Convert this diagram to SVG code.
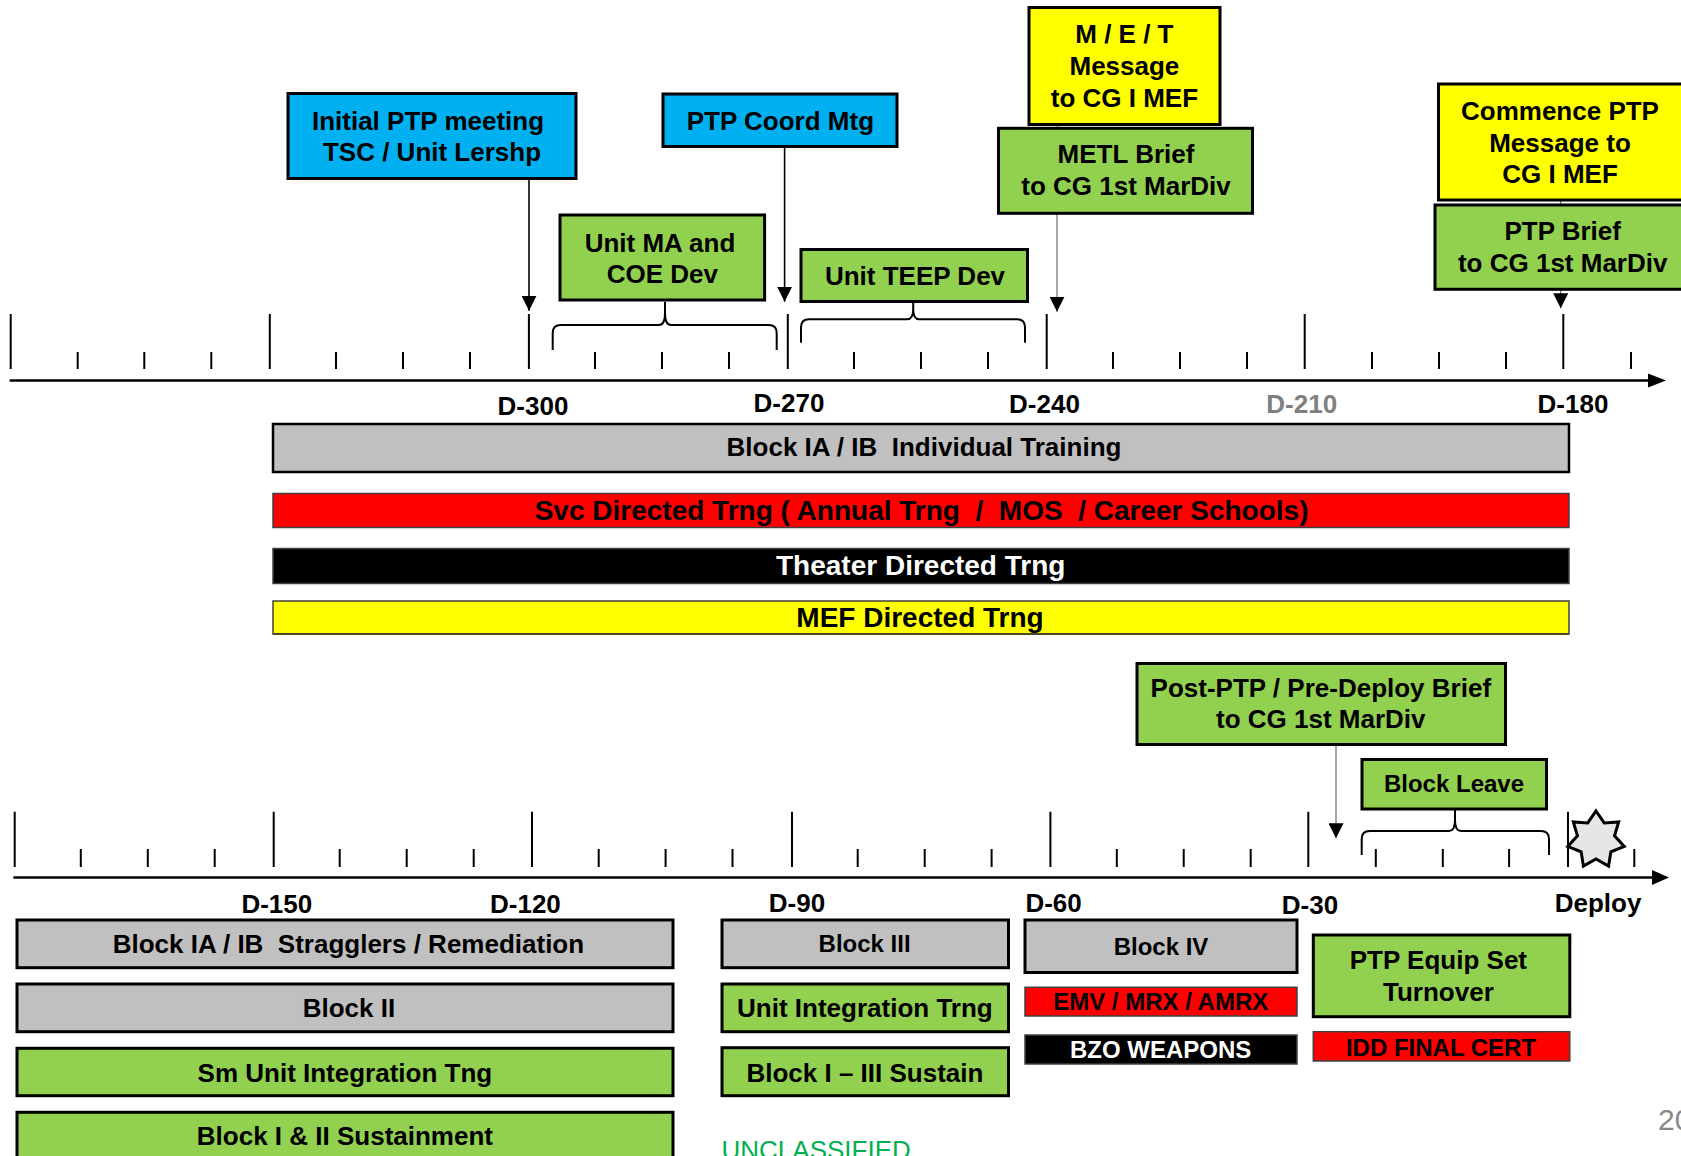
<svg xmlns="http://www.w3.org/2000/svg" width="1681" height="1156" viewBox="0 0 1681 1156">
<style>
text{font-family:"Liberation Sans",Arial,sans-serif;font-weight:bold;font-size:26px;text-anchor:middle;fill:#000}
.s24{font-size:24px}
.s28{font-size:28px}
.w{fill:#fff}
.box{stroke:#000;stroke-width:3}
.thin{stroke:#404040;stroke-width:1.5}
.blue{fill:#00b0f0}
.green{fill:#92d050}
.yellow{fill:#ffff00}
.gray{fill:#c0c0c0}
.red{fill:#ff0000}
.black{fill:#000}
.tick{stroke:#000;stroke-width:2}
.axis{stroke:#000;stroke-width:2.5}
.brace{fill:none;stroke:#000;stroke-width:2}
.conn{stroke:#000;stroke-width:1.6;fill:none}
.connl{stroke:#777;stroke-width:1.3;fill:none}
</style>
<defs>
<marker id="ah" viewBox="0 0 15 15" refX="15" refY="7.5" markerWidth="15" markerHeight="15" orient="auto" markerUnits="userSpaceOnUse">
<path d="M0,0 L15,7.5 L0,15 z" fill="#000"/>
</marker>
</defs>
<rect width="1681" height="1156" fill="#fff"/>

<g id="axis-top">
<line class="axis" x1="9.6" y1="380.5" x2="1650" y2="380.5"/>
<polygon points="1648,373.5 1666,380.5 1648,387.5" fill="#000"/>
<path class="tick" d="M10.7,314V369M269.8,314V369M528.9,314V369M787.8,314V369M1046.7,314V369M1304.7,314V369M1563.3,314V369"/>
<path class="tick" d="M77.7,352V369M144.3,352V369M211.3,352V369M336,352V369M403,352V369M470,352V369M595,352V369M662,352V369M729,352V369M854,352V369M921,352V369M988,352V369M1113,352V369M1180,352V369M1247,352V369M1372,352V369M1439,352V369M1506,352V369M1631,352V369"/>
<text x="533" y="415">D-300</text>
<text x="789" y="412">D-270</text>
<text x="1044.5" y="412.5">D-240</text>
<text x="1301.7" y="413" style="fill:#7f7f7f">D-210</text>
<text x="1573" y="413">D-180</text>
</g>

<g id="axis-bottom">
<line class="axis" x1="13.4" y1="877.5" x2="1654" y2="877.5"/>
<polygon points="1652,870 1669,877.5 1652,885" fill="#000"/>
<path class="tick" d="M14.7,811.7V867M273.7,811.7V867M532,811.7V867M792,811.7V867M1050.4,811.7V867M1308.3,811.7V867M1568,811.7V867"/>
<path class="tick" d="M80.8,849V867M147.8,849V867M214.7,849V867M339.7,849V867M406.7,849V867M473.7,849V867M598.7,849V867M665.6,849V867M732.5,849V867M857.7,849V867M924.7,849V867M991.6,849V867M1116.8,849V867M1183.7,849V867M1250.7,849V867M1375.8,849V867M1442.8,849V867M1509.1,849V867M1634.3,849V867"/>
<text x="276.8" y="913.3">D-150</text>
<text x="525.4" y="913.3">D-120</text>
<text x="797" y="911.7">D-90</text>
<text x="1053.6" y="911.7">D-60</text>
<text x="1310" y="914">D-30</text>
<text x="1598" y="911.7">Deploy</text>
</g>

<g id="connectors">
<line class="conn" x1="529" y1="179" x2="529" y2="310.7" marker-end="url(#ah)"/>
<line class="conn" x1="784.6" y1="146" x2="784.6" y2="301.7" marker-end="url(#ah)"/>
<line class="connl" x1="1057" y1="124" x2="1057" y2="311.7" marker-end="url(#ah)"/>
<line class="connl" x1="1560.7" y1="200" x2="1560.7" y2="308.3" marker-end="url(#ah)"/>
<line class="connl" x1="1336" y1="744" x2="1336" y2="838.3" marker-end="url(#ah)"/>
<path class="brace" d="M552.7,350V333Q552.7,325 560.7,325H659Q665,325 665,313V301.7M665,313Q665,325 671,325H768.7Q776.7,325 776.7,333V350"/>
<path class="brace" d="M801,342.7V327.3Q801,319.3 809,319.3H907.2Q913.2,319.3 913.2,309V301.7M913.2,309Q913.2,319.3 919.2,319.3H1017Q1025,319.3 1025,327.3V342.7"/>
<path class="brace" d="M1361.7,855V839Q1361.7,831 1369.7,831H1449Q1455,831 1455,820V809M1455,820Q1455,831 1461,831H1541Q1549,831 1549,839V855"/>
</g>

<g id="star">
<polygon points="1596,811 1604.24,822.88 1618.67,821.92 1614.52,835.77 1624.27,846.45 1610.85,851.85 1608.58,866.13 1596,859 1583.42,866.13 1581.15,851.85 1567.73,846.45 1577.48,835.77 1573.33,821.92 1587.76,822.88" fill="#e6e6e6" stroke="#000" stroke-width="3" stroke-linejoin="miter"/>
</g>

<g id="initial-ptp">
<rect class="box blue" x="288" y="93.5" width="288" height="85"/>
<text x="428" y="130">Initial PTP meeting</text>
<text x="432" y="161">TSC / Unit Lershp</text>
</g>
<g id="ptp-coord">
<rect class="box blue" x="663" y="94" width="234" height="52.5"/>
<text x="780.4" y="130">PTP Coord Mtg</text>
</g>
<g id="unit-ma">
<rect class="box green" x="560" y="215" width="204.6" height="85"/>
<text x="660" y="251.7">Unit MA and</text>
<text x="662.3" y="283.3">COE Dev</text>
</g>
<g id="unit-teep">
<rect class="box green" x="801" y="249.5" width="226.5" height="52"/>
<text x="915" y="285">Unit TEEP Dev</text>
</g>
<g id="met-message">
<rect class="box yellow" x="1029" y="7.5" width="191" height="117"/>
<text x="1124.4" y="43.3">M / E / T</text>
<text x="1124.4" y="75">Message</text>
<text x="1124.4" y="106.7">to CG I MEF</text>
</g>
<g id="metl-brief">
<rect class="box green" x="998.5" y="128.3" width="254" height="85"/>
<text x="1126" y="163.3">METL Brief</text>
<text x="1126" y="195">to CG 1st MarDiv</text>
</g>
<g id="commence-ptp">
<rect class="box yellow" x="1438.5" y="84" width="260" height="116"/>
<text x="1560" y="120">Commence PTP</text>
<text x="1560" y="151.7">Message to</text>
<text x="1560" y="183.3">CG I MEF</text>
</g>
<g id="ptp-brief">
<rect class="box green" x="1435" y="205" width="260" height="84.3"/>
<text x="1562.7" y="240">PTP Brief</text>
<text x="1562.7" y="271.7">to CG 1st MarDiv</text>
</g>

<g id="block-ia-ib">
<rect class="gray" x="273" y="424" width="1296" height="48" stroke="#000" stroke-width="2.5"/>
<text x="924" y="456" xml:space="preserve">Block IA / IB  Individual Training</text>
</g>
<g id="svc-directed">
<rect class="red thin" x="273" y="493.5" width="1296" height="34"/>
<text class="s28" x="921.6" y="520" xml:space="preserve">Svc Directed Trng ( Annual Trng  /  MOS  / Career Schools)</text>
</g>
<g id="theater-directed">
<rect class="black thin" x="273" y="548.5" width="1296" height="35"/>
<text class="s28 w" x="920.7" y="575">Theater Directed Trng</text>
</g>
<g id="mef-directed">
<rect class="yellow thin" x="273" y="601" width="1296" height="33"/>
<line x1="273" y1="634" x2="1569" y2="634" stroke="#4d4d1a" stroke-width="2"/>
<text class="s28" x="920" y="627.3">MEF Directed Trng</text>
</g>

<g id="post-ptp">
<rect class="box green" x="1137" y="663.5" width="368.5" height="81"/>
<text x="1320.8" y="696.7">Post-PTP / Pre-Deploy Brief</text>
<text x="1320.8" y="728.3">to CG 1st MarDiv</text>
</g>
<g id="block-leave">
<rect class="box green" x="1362" y="759.5" width="184.5" height="49.5"/>
<text class="s24" x="1454" y="791.7">Block Leave</text>
</g>

<g id="stragglers">
<rect class="box gray" x="17" y="920" width="656" height="47.7"/>
<text x="348.4" y="953.3" xml:space="preserve">Block IA / IB  Stragglers / Remediation</text>
</g>
<g id="block-ii">
<rect class="box gray" x="17" y="984" width="656" height="47.7"/>
<text x="348.9" y="1017.3">Block II</text>
</g>
<g id="sm-unit">
<rect class="box green" x="17" y="1048.3" width="656" height="47.4"/>
<text x="344.9" y="1081.7">Sm Unit Integration Tng</text>
</g>
<g id="block-i-ii-sustain">
<rect class="box green" x="17" y="1112.3" width="656" height="60"/>
<text x="344.9" y="1145">Block I &amp; II Sustainment</text>
</g>

<g id="block-iii">
<rect class="box gray" x="722" y="920" width="286.5" height="47.7"/>
<text class="s24" x="864.6" y="952.3">Block III</text>
</g>
<g id="unit-integration">
<rect class="box green" x="722" y="984" width="286.5" height="47.7"/>
<text x="864.9" y="1017.3">Unit Integration Trng</text>
</g>
<g id="block-i-iii-sustain">
<rect class="box green" x="722" y="1047.7" width="286.5" height="48"/>
<text x="864.9" y="1081.7">Block I – III Sustain</text>
</g>

<g id="block-iv">
<rect class="box gray" x="1025" y="920" width="272" height="52.5"/>
<text class="s24" x="1161" y="955">Block IV</text>
</g>
<g id="emv">
<rect class="red thin" x="1025" y="987.3" width="272" height="28.7"/>
<text class="s24" x="1160.7" y="1010">EMV / MRX / AMRX</text>
</g>
<g id="bzo">
<rect class="black thin" x="1025" y="1035" width="272" height="29"/>
<text class="s24 w" x="1160.7" y="1058.3">BZO WEAPONS</text>
</g>

<g id="ptp-equip">
<rect class="box green" x="1313.3" y="935" width="256.5" height="81.7"/>
<text x="1438.4" y="969.3">PTP Equip Set</text>
<text x="1438.4" y="1000.7">Turnover</text>
</g>
<g id="idd">
<rect class="red thin" x="1313.3" y="1031.7" width="256.5" height="29.3"/>
<text class="s24" x="1441" y="1055.7">IDD FINAL CERT</text>
</g>

<text x="1658" y="1130" style="font-weight:normal;font-size:30px;text-anchor:start;fill:#898989">20</text>
<text x="721.5" y="1159" style="font-weight:normal;font-size:26px;text-anchor:start;fill:#00b050">UNCLASSIFIED</text>
</svg>
